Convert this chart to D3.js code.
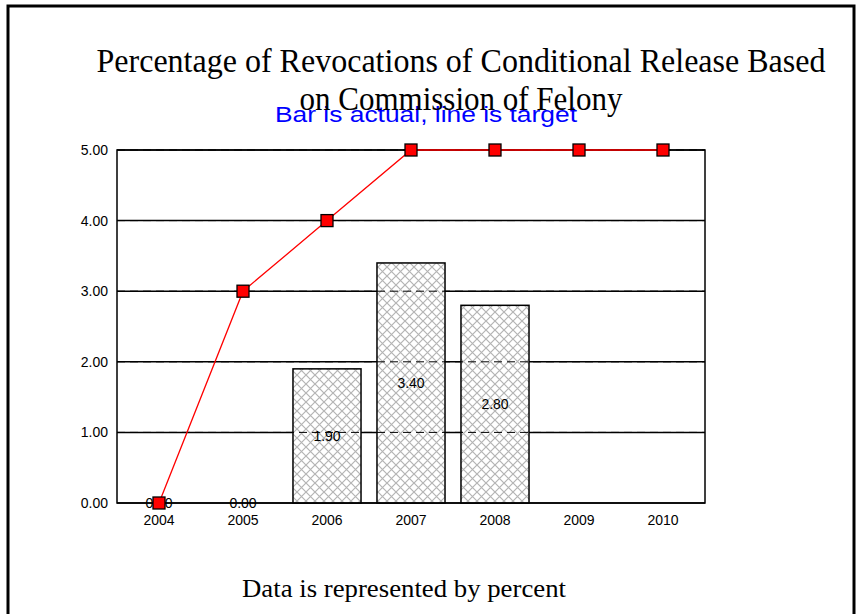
<!DOCTYPE html>
<html>
<head>
<meta charset="utf-8">
<script src="https://cdn.jsdelivr.net/npm/d3@7"></script>
<style>
  body { margin: 0; background: #fff; }
  svg { display: block; }
</style>
</head>
<body>
<div id="chart"></div>
<script>
// chart data
const years = ["2004", "2005", "2006", "2007", "2008", "2009", "2010"];
const actual = [0.00, 0.00, 1.90, 3.40, 2.80, null, null];
const target = [0, 3, 4, 5, 5, 5, 5];
const yTicks = [0, 1, 2, 3, 4, 5];

const W = 858, H = 614;
const margin = { top: 150, right: 153, bottom: 111, left: 117 },
    width = W - margin.left - margin.right,
    height = H - margin.top - margin.bottom;

const svg = d3.select("#chart").append("svg")
    .attr("width", W)
    .attr("height", H);

// hatch pattern for bars
const defs = svg.append("defs");
const pat = defs.append("pattern")
    .attr("id", "hatch")
    .attr("patternUnits", "userSpaceOnUse")
    .attr("width", 9)
    .attr("height", 9);
pat.append("rect").attr("width", 9).attr("height", 9).attr("fill", "#fff");
pat.append("path")
    .attr("d", "M0,0 L9,9 M9,0 L0,9")
    .attr("stroke", "#b4b4b4")
    .attr("stroke-width", 1.2);

// outer frame
svg.append("rect")
    .attr("x", 8).attr("y", 6)
    .attr("width", 846).attr("height", 700)
    .attr("fill", "none")
    .attr("stroke", "#000")
    .attr("stroke-width", 3);

// titles
const serif = "'Liberation Serif', 'Times New Roman', serif";
const sans = "'Liberation Sans', Arial, sans-serif";

svg.append("text")
    .attr("x", 461).attr("y", 72)
    .attr("text-anchor", "middle")
    .attr("textLength", 729)
    .attr("lengthAdjust", "spacingAndGlyphs")
    .style("font-family", serif)
    .style("font-size", "33px")
    .text("Percentage of Revocations of Conditional Release Based");

svg.append("text")
    .attr("x", 426).attr("y", 122)
    .attr("text-anchor", "middle")
    .attr("textLength", 302)
    .attr("lengthAdjust", "spacingAndGlyphs")
    .style("font-family", sans)
    .style("font-size", "22px")
    .style("fill", "#0000ff")
    .text("Bar is actual, line is target");

svg.append("text")
    .attr("x", 461).attr("y", 110)
    .attr("text-anchor", "middle")
    .style("font-family", serif)
    .style("font-size", "33px")
    .attr("textLength", 323)
    .attr("lengthAdjust", "spacingAndGlyphs")
    .text("on Commission of Felony");

svg.append("text")
    .attr("x", 404).attr("y", 597)
    .attr("text-anchor", "middle")
    .attr("textLength", 324)
    .attr("lengthAdjust", "spacingAndGlyphs")
    .style("font-family", serif)
    .style("font-size", "26px")
    .text("Data is represented by percent");

const g = svg.append("g")
    .attr("transform", `translate(${margin.left},${margin.top})`);

// scales
const x = d3.scaleBand().domain(years).range([0, width])
    .paddingInner(0.19).paddingOuter(0.095);
const xc = d => x(d) + x.bandwidth() / 2;
const y = d3.scaleLinear().domain([0, 5]).range([height, 0]);

// solid gridlines behind bars
g.selectAll(".grid")
    .data(yTicks)
    .join("line")
    .attr("class", "grid")
    .attr("x1", 0).attr("x2", width)
    .attr("y1", d => y(d)).attr("y2", d => y(d))
    .attr("stroke", "#000")
    .attr("stroke-width", 1.5);

// bars
const barData = years.map((yr, i) => ({ year: yr, value: actual[i] }))
    .filter(d => d.value !== null);

g.selectAll(".bar")
    .data(barData.filter(d => d.value > 0))
    .join("rect")
    .attr("class", "bar")
    .attr("x", d => x(d.year))
    .attr("width", x.bandwidth())
    .attr("y", d => y(d.value))
    .attr("height", d => height - y(d.value))
    .attr("fill", "url(#hatch)")
    .attr("stroke", "#000")
    .attr("stroke-width", 1.5);

// dashed gridlines over the bars
g.selectAll(".grid-over")
    .data(yTicks.slice(1))
    .join("line")
    .attr("class", "grid-over")
    .attr("x1", 0).attr("x2", width)
    .attr("y1", d => y(d)).attr("y2", d => y(d))
    .attr("stroke", "#000")
    .attr("stroke-width", 1)
    .attr("stroke-dasharray", "8,5");

// plot frame
g.append("rect")
    .attr("width", width).attr("height", height)
    .attr("fill", "none")
    .attr("stroke", "#000")
    .attr("stroke-width", 1.5);

// y axis labels
const yAxis = g.append("g")
    .call(d3.axisLeft(y).tickValues(yTicks).tickFormat(d3.format(".2f")).tickSize(0).tickPadding(9));
yAxis.select(".domain").remove();
yAxis.selectAll("text")
    .style("font-family", sans)
    .style("font-size", "14px")
    .attr("fill", "#000");

// x axis labels
const xAxis = g.append("g")
    .attr("transform", `translate(0,${height})`)
    .call(d3.axisBottom(x).tickSize(0).tickPadding(12));
xAxis.select(".domain").remove();
xAxis.selectAll("text")
    .style("font-family", sans)
    .style("font-size", "14px")
    .attr("fill", "#000");

// bar value labels
g.selectAll(".bar-label")
    .data(barData)
    .join("text")
    .attr("class", "bar-label")
    .attr("x", d => xc(d.year))
    .attr("y", d => (y(d.value) + height) / 2)
    .attr("dy", "0.35em")
    .attr("text-anchor", "middle")
    .style("font-family", sans)
    .style("font-size", "14px")
    .text(d => d3.format(".2f")(d.value));

// target line
const line = d3.line()
    .x((d, i) => xc(years[i]))
    .y(d => y(d));

g.append("path")
    .datum(target)
    .attr("d", line)
    .attr("fill", "none")
    .attr("stroke", "#ff0000")
    .attr("stroke-width", 1.3);

g.selectAll(".marker")
    .data(target)
    .join("rect")
    .attr("class", "marker")
    .attr("x", (d, i) => xc(years[i]) - 6)
    .attr("y", d => y(d) - 6)
    .attr("width", 12).attr("height", 12)
    .attr("fill", "#ff0000")
    .attr("stroke", "#000")
    .attr("stroke-width", 1.3);
</script>
</body>
</html>
